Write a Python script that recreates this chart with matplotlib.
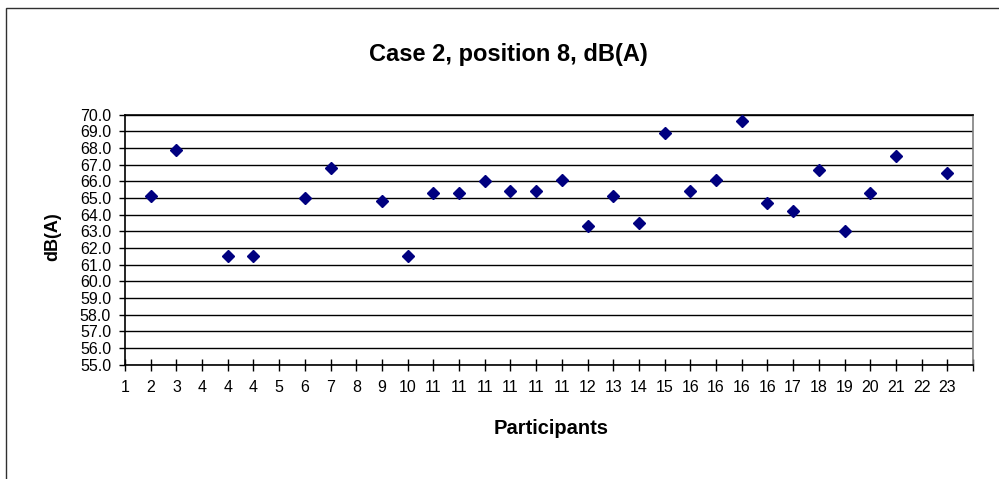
import numpy as np
import matplotlib
matplotlib.use("Agg")
import matplotlib.pyplot as plt
from matplotlib.patches import Rectangle

# category labels along the x axis (participants, some repeated)
participants = ["1", "2", "3", "4", "4", "4", "5", "6", "7", "8", "9", "10",
                "11", "11", "11", "11", "11", "11", "12", "13", "14", "15",
                "16", "16", "16", "16", "17", "18", "19", "20", "21", "22", "23"]

# measured level per category (None = no measurement)
db_values = [None, 65.1, 67.9, None, 61.5, 61.5, None, 65.0, 66.8, None, 64.8, 61.5,
             65.3, 65.3, 66.0, 65.4, 65.4, 66.1, 63.3, 65.1, 63.5, 68.9,
             65.4, 66.1, 69.6, 64.7, 64.2, 66.7, 63.0, 65.3, 67.5, None, 66.5]

y_ticks = np.arange(55.0, 70.01, 1.0)

plt.rcParams['font.family'] = ['Liberation Sans', 'DejaVu Sans']

fig = plt.figure(figsize=(9.99, 4.79), dpi=100)
ax = fig.add_axes([125 / 999, 1 - 364.5 / 479, (973 - 125) / 999, (364.5 - 114.7) / 479])

# chart area border (runs off the bottom/right of the picture)
fig.patches.append(Rectangle((6 / 999, -0.05), 1.2, 1 - 8 / 479 + 0.05,
                             transform=fig.transFigure, fill=False,
                             edgecolor='#303030', linewidth=1.0))

xs = [i for i, v in enumerate(db_values) if v is not None]
ys = [v for v in db_values if v is not None]
ax.plot(xs, ys, linestyle='none', marker='D', markersize=6.3,
        color='#000080', markeredgecolor='#000080', zorder=3)

ax.set_xlim(0, len(participants))
ax.set_ylim(55, 70)
ax.set_xticks(range(len(participants) + 1))
ax.set_xticklabels(participants + [""], fontsize=11.5)
ax.set_yticks(y_ticks)
ax.set_yticklabels([f"{t:.1f}" for t in y_ticks], fontsize=11.5)

ax.yaxis.grid(True, color='black', linewidth=1.0)
ax.set_axisbelow(True)
ax.tick_params(axis='x', direction='inout', length=8, width=1, pad=7)
ax.tick_params(axis='y', direction='out', length=4, width=1, pad=6)

for side in ['left', 'bottom', 'top']:
    ax.spines[side].set_color('black')
    ax.spines[side].set_linewidth(1.2)
ax.spines['right'].set_color('#808080')
ax.spines['right'].set_linewidth(1.2)

fig.text(551 / 999, 1 - 428 / 479, 'Participants', fontsize=14.5,
         fontweight='bold', ha='center', va='center')
fig.text(53 / 999, 1 - 237 / 479, 'dB(A)', fontsize=13, fontweight='bold',
         rotation=90, ha='center', va='center')
fig.text(508 / 999, 1 - 54 / 479, 'Case 2, position 8, dB(A)', fontsize=17,
         fontweight='bold', ha='center', va='center')

fig.savefig('out.png', dpi=100)
